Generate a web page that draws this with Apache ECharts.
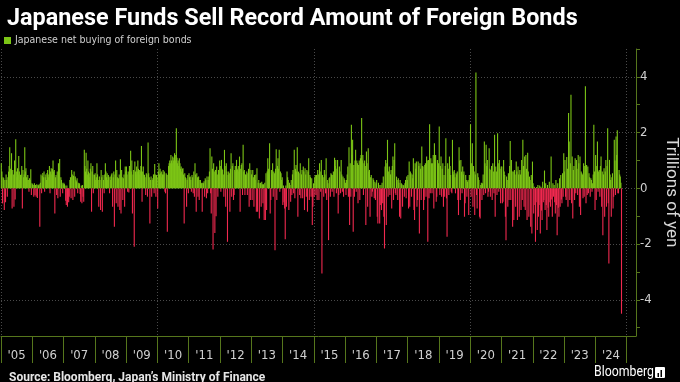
<!DOCTYPE html>
<html><head><meta charset="utf-8">
<script src="https://cdn.jsdelivr.net/npm/echarts@6/dist/echarts.min.js"></script>
<style>html,body{margin:0;padding:0;background:#000;}#c{width:680px;height:382px;}</style>
</head><body><div id="c"></div>
<script>
const seriesName = 'Japanese net buying of foreign bonds';
const years = [2005,2006,2007,2008,2009,2010,2011,2012,2013,2014,2015,2016,2017,2018,2019,2020,2021,2022,2023,2024];
const yearLabels = ["'05","'06","'07","'08","'09","'10","'11","'12","'13","'14","'15","'16","'17","'18","'19","'20","'21","'22","'23","'24"];
const yTickLabels = [-4,-2,0,2,4];

// weekly net buying, trillions of yen
const y2005 = [0.9,0.6,-0.54,0.4,0.36,-0.78,0.3,-0.5,0.5,0.3,-0.3,0.4,0.6,0.8,1.47,0.7,0.5,1.26,-0.72,0.66,0.5,-0.66,1.0,-0.4,1.76,0.6,0.4,0.72,0.5,1.16,0.6,0.3,0.48,0.5,0.8,-0.72,0.66,0.4,0.5,1.47,0.6,0.72,0.4,0.3,0.48,0.3,-0.12,0.36,0.3,0.68,-0.24,0.18];
const y2006 = [0.15,0.12,-0.3,0.18,-0.25,0.12,-0.3,0.15,-0.35,0.12,0.1,0.15,-1.38,0.2,0.5,-0.18,0.45,0.55,0.4,0.6,-0.12,0.4,0.5,0.3,0.55,0.66,0.4,0.5,0.8,-0.18,0.6,0.72,0.5,0.7,1.0,0.6,0.66,-0.9,0.4,0.48,-0.24,0.6,-0.36,0.9,0.7,1.05,-0.3,0.4,0.3,0.2,-0.18,0.15];
const y2007 = [0.2,0.15,0.1,-0.45,-0.6,0.1,-0.66,-0.4,-0.5,-0.3,0.3,0.4,-0.36,0.66,0.5,-0.42,0.45,0.6,-0.3,0.42,0.3,0.25,0.36,-0.18,0.2,0.15,0.18,-0.2,-0.48,0.1,-0.54,0.12,-0.3,-0.48,1.38,0.8,0.6,1.28,0.7,0.5,1.0,0.6,0.4,0.54,0.7,0.9,-0.84,0.6,0.8,-0.18,0.5,0.48];
const y2008 = [0.54,0.3,0.4,0.9,0.5,0.3,-0.66,0.42,0.3,-0.78,0.66,0.4,-0.84,0.48,0.3,-0.18,0.5,0.9,0.6,0.4,0.54,0.3,0.48,0.4,-0.18,0.42,0.3,0.5,0.54,-0.66,0.4,0.6,-1.38,0.5,1.0,-0.54,0.66,0.4,-0.66,0.36,0.5,-0.78,1.04,-0.9,0.66,0.4,-0.42,0.36,0.5,-0.66,0.78,0.6];
const y2009 = [0.78,0.5,-0.12,0.6,-0.15,0.8,0.5,1.35,0.6,1.0,-0.9,0.5,0.66,-2.1,0.96,0.6,0.5,0.78,0.6,1.0,0.7,0.5,0.66,0.6,0.8,1.52,-0.48,0.6,0.78,0.5,0.48,0.4,-0.24,0.54,0.5,-0.3,1.64,0.54,0.4,-1.26,0.3,0.42,-0.3,0.3,0.36,0.5,-0.18,0.87,0.5,-0.3,0.48,0.4];
const y2010 = [-0.72,0.6,0.9,0.5,0.7,0.54,0.6,0.4,0.5,0.66,0.5,0.6,-0.12,-0.18,0.54,0.5,-1.56,0.48,0.8,0.9,1.0,0.9,1.2,1.0,0.9,1.14,1.0,1.1,1.26,1.0,1.2,2.16,1.1,0.9,1.0,0.8,1.08,0.9,0.7,0.78,0.6,0.7,0.72,0.5,-1.26,0.54,0.4,0.36,-0.66,0.3,0.48,-0.18];
const y2011 = [0.54,0.4,0.42,0.3,-0.12,0.48,0.4,-0.18,0.6,-0.3,0.9,0.5,-0.84,0.54,0.4,-0.3,0.42,-0.42,0.3,0.3,0.2,0.18,-0.84,0.2,0.18,0.25,-0.3,0.36,0.3,-0.36,0.42,-0.18,0.3,0.42,0.6,1.44,-0.18,-0.9,1.14,0.7,-2.2,0.9,0.6,-1.6,0.66,-1.0,0.78,0.5,-0.3,0.66,0.5,1.0];
const y2012 = [0.8,-0.12,1.02,0.7,0.66,0.5,-0.3,1.38,0.8,-0.66,0.9,0.6,-1.92,0.48,0.6,0.54,-0.84,0.7,1.26,-0.3,0.8,0.9,-0.42,-0.24,0.66,0.8,0.6,1.02,0.7,0.66,0.8,0.6,1.14,-0.84,0.7,0.84,0.9,-0.24,1.56,0.6,0.66,-0.24,0.5,0.48,0.6,-0.24,0.54,0.7,-0.66,0.9,-0.42,0.66];
const y2013 = [0.5,-0.42,0.66,0.4,-0.66,0.48,0.3,0.5,-0.84,0.72,-0.84,0.2,0.3,-1.08,0.18,0.2,-0.66,0.24,0.15,-0.54,0.15,-1.14,0.2,-1.14,0.54,-0.78,0.6,1.08,0.7,0.5,1.62,-0.9,-0.42,0.66,0.5,0.9,-0.3,0.6,0.54,-2.22,0.7,1.4,-0.42,0.8,1.08,0.7,1.38,-0.12,0.6,0.54,0.3,0.4];
const y2014 = [-0.6,0.1,-0.5,-0.72,-1.83,0.1,-0.66,0.6,0.4,0.3,-0.78,0.2,0.12,-0.48,0.3,-0.24,0.5,0.66,-0.18,1.38,-0.36,0.7,0.84,0.6,1.47,-1.02,0.6,0.54,-0.24,0.9,-0.36,0.5,0.66,-0.36,0.78,0.6,-0.78,0.72,0.5,-0.3,0.66,-0.84,0.6,1.08,-0.42,0.48,0.4,-0.3,0.36,-1.32,-0.66,0.18];
const y2015 = [-0.3,0.4,0.48,-0.24,0.48,-0.42,0.66,0.5,-0.42,0.9,0.6,-0.12,1.02,-3.06,0.48,0.4,-0.3,0.66,0.5,-0.18,1.08,-0.42,0.3,0.18,-1.86,0.36,0.4,-0.3,0.54,0.5,-0.12,0.48,0.6,-0.3,1.1,0.8,1.02,-0.18,0.7,1.02,-0.9,-0.24,0.78,0.6,-0.18,1.02,0.5,-0.12,0.42,-0.3,0.36,0.3];
const y2016 = [0.2,-0.24,0.3,0.5,0.78,-0.3,1.47,-1.32,0.9,-0.3,2.28,1.2,1.74,-1.56,0.84,-0.3,1.0,1.38,-0.12,1.0,0.9,-0.54,0.84,1.0,-0.42,1.08,1.2,2.52,1.0,1.2,-0.24,0.9,1.0,0.8,-1.32,1.32,0.9,-0.66,1.44,0.6,0.66,-1.02,0.4,0.48,-0.3,-0.12,0.36,0.3,-0.36,0.24,-0.42,0.18];
const y2017 = [0.3,-1.02,-1.26,0.2,0.12,-1.26,-0.6,0.12,-0.78,0.2,-0.54,0.42,-1.02,-2.16,0.78,1.02,-1.32,0.9,1.74,-0.3,0.6,0.78,-0.24,0.5,0.66,-0.72,0.8,1.14,-0.42,1.02,1.62,-0.18,-0.24,0.42,0.3,-0.42,0.36,0.2,-1.02,0.3,-1.08,0.18,0.15,-0.66,0.12,0.1,-0.3,0.18,0.3,-0.36,0.42,0.3];
const y2018 = [0.48,-0.72,0.96,-0.66,0.6,0.54,-0.3,0.5,0.36,1.08,-0.78,-1.14,0.9,0.7,0.96,-0.66,-0.42,0.96,0.8,-1.62,0.9,0.7,-0.42,1.5,0.8,0.78,-0.78,-0.42,0.84,0.9,-0.3,1.14,1.0,-1.92,1.02,-0.36,2.3,-0.18,1.08,0.9,-0.18,0.9,1.2,-0.72,1.62,1.0,1.2,-0.48,-0.3,1.02,0.8,0.9];
const y2019 = [2.22,-0.24,0.8,1.14,-0.3,0.7,0.9,-0.66,0.48,-0.3,0.8,1.8,-0.36,-1.74,0.9,0.7,-0.24,1.14,0.8,0.48,-0.12,-0.18,1.74,0.6,0.5,0.66,0.4,-0.18,0.54,0.5,0.6,-0.42,-0.96,1.47,1.0,-0.42,1.02,0.6,-0.18,0.78,0.5,0.6,-1.02,-0.54,0.48,0.3,-0.3,0.24,0.3,-0.96,0.48,0.4];
const y2020 = [2.3,-0.3,0.9,1.62,-0.66,0.8,0.6,-0.96,0.5,4.16,-0.24,-0.72,0.54,0.4,0.3,-1.02,-1.08,0.12,0.2,-0.42,0.18,0.5,-0.24,1.68,0.9,-0.18,1.56,0.8,1.02,-0.3,-0.12,1.44,0.7,-0.3,0.66,0.8,-0.42,0.9,0.6,-0.18,1.92,-1.02,0.78,0.6,-0.24,1.98,0.9,-0.12,1.02,0.7,-0.54,0.78];
const y2021 = [0.78,-0.54,-0.48,1.02,0.6,0.48,-1.02,-1.86,0.42,0.3,-0.66,0.54,-0.42,0.8,1.7,-0.42,1.02,0.6,-1.38,0.6,-1.14,0.66,0.5,-0.66,0.96,0.6,-1.14,0.78,0.5,-1.02,0.66,0.5,-0.78,1.02,-0.42,1.74,0.8,-0.66,1.14,-0.78,1.2,0.7,-1.14,1.28,0.6,-1.02,0.42,0.3,-1.38,0.48,-1.62,0.96];
const y2022 = [0.18,-0.9,0.06,-0.6,-1.92,-0.5,0.05,-1.5,0.12,-1.02,-0.6,0.1,-1.62,0.06,-0.8,-1.14,0.24,-0.5,-0.42,0.64,-0.78,0.18,-0.6,-1.5,0.12,-0.7,-1.02,0.24,-0.5,-0.66,1.14,-0.4,-1.02,0.18,-0.3,0.12,-0.5,-0.9,0.3,-0.6,-1.68,0.18,-0.7,-1.02,0.36,-0.66,0.48,-0.4,-0.54,0.54,-0.3,1.26];
const y2023 = [0.6,1.02,-0.3,-0.42,1.12,0.7,-0.66,2.7,1.68,-0.42,0.9,3.36,-0.54,1.14,-1.08,0.66,0.8,-0.42,1.08,-0.18,1.02,0.7,-0.24,1.2,0.9,-0.66,1.14,-0.96,0.6,0.54,0.5,-0.36,0.9,-0.3,0.8,3.66,-0.54,0.84,-0.24,0.78,-0.18,0.54,0.4,-0.3,0.36,0.3,-0.12,0.18,0.5,2.28,0.6,-0.78];
const y2024 = [1.2,-0.42,0.8,1.68,-0.12,0.6,0.66,-0.3,0.8,1.14,-0.66,0.6,-1.68,0.5,0.72,-1.02,0.6,1.02,-0.66,0.8,2.16,-0.54,-2.7,1.02,0.5,0.3,-1.02,0.4,0.54,-0.72,-0.3,1.74,1.0,-0.24,1.86,1.2,2.08,-0.18,-0.18,0.66,0.5,0.42,0.2,-4.5];
const valuesByYear = [y2005,y2006,y2007,y2008,y2009,y2010,y2011,y2012,y2013,y2014,y2015,y2016,y2017,y2018,y2019,y2020,y2021,y2022,y2023,y2024];

const GREEN = '#7cc516', RED = '#f0294f', AXIS = '#56761c', GRIDC = '#4a4a4a';
const NARROW = 'Liberation Sans Narrow, DejaVu Sans Condensed, Roboto, sans-serif';
const data = [];
years.forEach((yr, k) => {
  valuesByYear[k].forEach((v, i) => data.push([yr + (i + 0.5) / 52, v]));
});

const chart = echarts.init(document.getElementById('c'), null, {renderer: 'canvas'});
const plotTop = 49, plotBottom = 46, unit = (382 - plotTop - plotBottom) / 10.3;
const yearW = (680 - 1 - 44) / 20.3;
const hiddenAxis = {show: false, axisLine: {show: false, onZero: false}, axisTick: {show: false}, axisLabel: {show: false}, splitLine: {show: false}};

chart.setOption({
  backgroundColor: '#000',
  animation: false,
  textStyle: {fontFamily: 'Roboto, sans-serif'},
  title: [
    {text: 'Japanese Funds Sell Record Amount of Foreign Bonds', left: 2, top: 3,
     textStyle: {color: '#fff', fontSize: 23.4, fontWeight: 'bold', fontFamily: 'Roboto'}},
    {text: 'Source: Bloomberg, Japan\u2019s Ministry of Finance', left: 4, top: 367,
     textStyle: {color: '#e6e6e6', fontSize: 12, fontWeight: 'bold', fontFamily: 'Roboto'}}
  ],
  legend: {
    left: 4, top: 35, itemWidth: 7, itemHeight: 7, itemGap: 4,
    icon: 'rect', padding: 0,
    data: [{name: seriesName, itemStyle: {color: GREEN}}],
    textStyle: {color: '#cfcfcf', fontSize: 10.5, fontFamily: NARROW, padding: [0,0,0,-1]}
  },
  graphic: [
    {type: 'text', left: 594, top: 365, scaleX: 0.82,
     style: {text: 'Bloomberg', fill: '#fff', fontSize: 15, fontFamily: 'Roboto'}},
    {type: 'rect', left: 655, top: 367, shape: {width: 10, height: 11, r: 1}, style: {fill: '#fff'}},
    {type: 'rect', left: 657.5, top: 373, shape: {width: 1.5, height: 4}, style: {fill: '#000'}},
    {type: 'rect', left: 660.5, top: 370, shape: {width: 1.5, height: 7}, style: {fill: '#000'}}
  ],
  grid: [
    {left: 1, right: 44, top: plotTop, bottom: plotBottom, outerBoundsMode: 'none', containLabel: false},
    {left: 1, right: 44, top: plotTop, height: unit * 10, outerBoundsMode: 'none', containLabel: false},
    {left: 1, right: 44, top: plotTop + unit, height: unit * 8, outerBoundsMode: 'none', containLabel: false},
    {left: 1, width: yearW * 20, top: 335, height: 1, outerBoundsMode: 'none', containLabel: false}
  ],
  xAxis: [
    {gridIndex: 0, type: 'value', min: 2005, max: 2025.3, interval: 5,
     axisLine: {show: true, onZero: false, lineStyle: {color: AXIS, width: 1}},
     axisTick: {show: false}, axisLabel: {show: false},
     splitLine: {show: true, lineStyle: {color: GRIDC, type: [1, 2], width: 1}}},
    Object.assign({gridIndex: 1, type: 'value', min: 0, max: 1}, hiddenAxis),
    Object.assign({gridIndex: 2, type: 'value', min: 0, max: 1}, hiddenAxis),
    {gridIndex: 3, type: 'category', data: yearLabels, boundaryGap: true, position: 'bottom',
     axisLine: {show: false, onZero: false},
     axisTick: {show: true, interval: 0, length: 27, lineStyle: {color: AXIS}},
     axisLabel: {interval: 0, color: '#d0d0d0', fontSize: 13, margin: 13, fontFamily: NARROW},
     splitLine: {show: false}}
  ],
  yAxis: [
    {gridIndex: 0, type: 'value', min: -5.3, max: 5, position: 'right',
     axisLine: {show: true, onZero: false, lineStyle: {color: AXIS, width: 1}},
     axisTick: {show: false}, axisLabel: {show: false}, splitLine: {show: false}},
    {gridIndex: 1, type: 'value', min: -5, max: 5, interval: 1, position: 'right',
     axisLine: {show: false, onZero: false},
     axisTick: {show: true, length: 4, lineStyle: {color: AXIS}},
     axisLabel: {color: '#d0d0d0', fontSize: 13, margin: 4, fontFamily: NARROW,
                 formatter: v => yTickLabels.includes(v) ? String(v) : ''},
     splitLine: {show: false},
     name: 'Trillions of yen', nameLocation: 'middle', nameRotate: -90, nameGap: 22,
     nameTextStyle: {color: '#d8d8d8', fontSize: 17, fontFamily: 'Roboto', padding: [0, 0, 0, 8]}},
    {gridIndex: 2, type: 'value', min: -4, max: 4, interval: 2, position: 'right',
     axisLine: {show: false, onZero: false}, axisTick: {show: false}, axisLabel: {show: false},
     splitLine: {show: true, lineStyle: {color: GRIDC, type: [1, 2], width: 1}}},
    Object.assign({gridIndex: 3, type: 'value'}, hiddenAxis)
  ],
  series: [{
    name: seriesName, type: 'bar', xAxisIndex: 0, yAxisIndex: 0,
    data: data, barWidth: 1.1, large: false,
    itemStyle: {color: p => (p.value[1] >= 0 ? GREEN : RED)}
  }]
});
</script></body></html>
